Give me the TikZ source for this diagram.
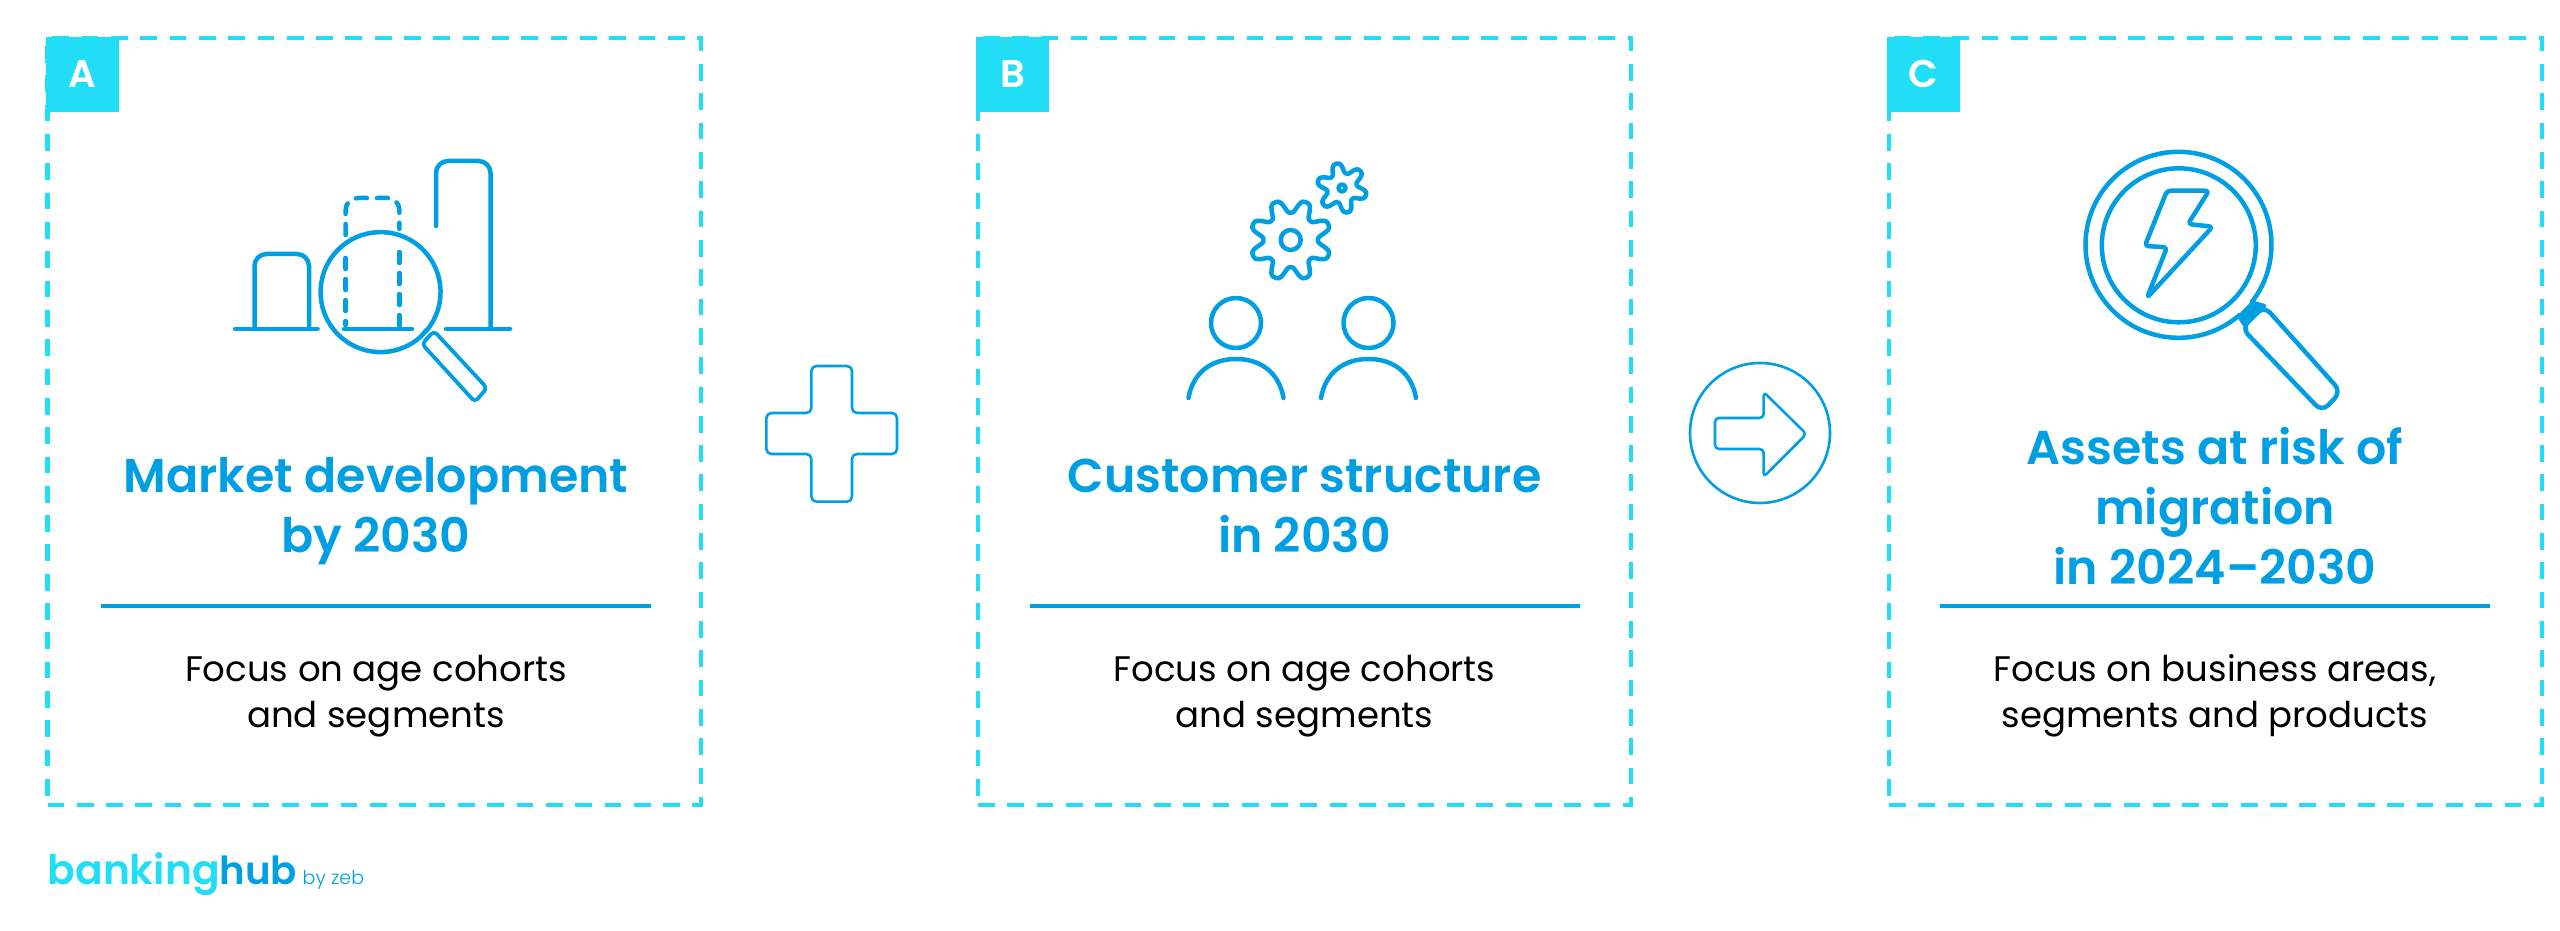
\documentclass[tikz,border=0pt]{standalone}
\usepackage{fontspec}
\setmainfont{Poppins}
\newfontfamily\titlefont{Poppins SemiBold}
\newfontfamily\lightfont{Poppins Light}
\usetikzlibrary{positioning}

\definecolor{zebcyan}{HTML}{22DDF6}
\definecolor{zebblue}{HTML}{009FE3}

\tikzset{
	panelbox/.style={draw=zebcyan, line width=0.4mm, dash pattern=on 1.67mm off 1.26mm,
		minimum width=6.53cm, minimum height=7.665cm, inner sep=0, outer sep=0, anchor=north west},
	paneltag/.style={fill=zebcyan, text=white, font=\fontsize{11}{13}\selectfont\titlefont,
		minimum width=0.73cm, minimum height=0.75cm, inner sep=0, outer sep=0, anchor=north west},
	paneltitle/.style={text=zebblue, font=\fontsize{13.5}{17.07}\selectfont\titlefont,
		align=center, inner sep=0, anchor=base},
	panelbody/.style={text=black, font=\fontsize{10.1}{13.09}\selectfont,
		align=center, inner sep=0, anchor=base},
	panelrule/.style={draw=zebblue, line width=0.4mm},
	iconline/.style={draw=zebblue, line width=0.45mm, line cap=round, line join=round},
	icondash/.style={iconline, dash pattern=on 1.1mm off 1mm},
	thinline/.style={draw=zebblue, line width=0.26mm, line join=round},
	logotext/.style={anchor=base west, inner sep=0},
}

\begin{document}
\begin{tikzpicture}[x=0.01cm, y=-0.01cm]
	\path[use as bounding box, fill=white] (0, 0) rectangle (2560, 931);

	% Panels with tag, title, rule and body
	\foreach \name/\xx/\cx/\tagtext/\titletext/\titley/\bodytext in {
		a/47.5/376/A/{Market development\\by 2030}/553/{Focus on age cohorts\\and segments},
		b/978/1304.5/B/{Customer structure\\in 2030}/553/{Focus on age cohorts\\and segments},
		c/1889/2215/C/{Assets at risk of\\migration\\in 2024–2030}/585/{Focus on business areas,\\segments and products}}{
		\node (box\name) at (\xx, 38.3) [panelbox] {};
		\node (tag\name) at (\xx - 2, 36.7) [paneltag] {\tagtext};
		\node (title\name) at (\cx, \titley) [paneltitle] {\titletext};
		\node (body\name) at (\cx, 728) [panelbody] {\bodytext};
		\coordinate (rulestart\name) at (\cx - 275, 606);
		\coordinate (ruleend\name) at (\cx + 275, 606);
		\draw [panelrule] (rulestart\name) -- (ruleend\name);
	}

	% Bar chart icon
	\draw [iconline] (235, 329) -- (317.5, 329);
	\draw [iconline] (344, 329) -- (412, 329);
	\draw [iconline] (446, 329) -- (510, 329);
	\draw [iconline, rounded corners=1.2mm] (254.5, 329) -- (254.5, 254) -- (309, 254) -- (309, 329);
	\draw [iconline, rounded corners=1.2mm] (436, 226) -- (436, 161) -- (490.5, 161) -- (490.5, 329);
	\draw [icondash, rounded corners=1.2mm] (345.6, 235) -- (345.6, 198) -- (399.4, 198) -- (399.4, 229);
	\draw [icondash] (345.6, 258) -- (345.6, 325);
	\draw [icondash] (399.4, 252) -- (399.4, 329);
	\draw [iconline] (420.7, 336.7) arc [start angle=48, end angle=399, radius=60];
	\draw [iconline] (420.7, 336.7) -- (426.6, 330);
	\draw [iconline, line width=0.38mm, rounded corners=0.4mm] (434, 331) -- (487, 388) -- (475, 402) -- (422, 344) -- cycle;

	% Plus sign
	\draw [thinline, rounded corners=0.5mm] (811.4, 366) -- (852, 366) -- (852, 413) -- (897, 413) -- (897, 454)
		-- (852, 454) -- (852, 501.7) -- (811.4, 501.7) -- (811.4, 454) -- (766.4, 454) -- (766.4, 413) -- (811.4, 413) -- cycle;

	% Gears and people
	\draw [iconline] plot [domain=0:357.5, samples=144, smooth cycle, shift={(1290.7, 240)}]
		(\x:{34 + 7.5*(cos(8*(\x - 22.5)) - 0.1*cos(24*(\x - 22.5)))});
	\draw [iconline] (1290.7, 240) circle [radius=10];
	\draw [iconline] plot [domain=0:355, samples=72, smooth cycle, shift={(1342, 188)}]
		(\x:{20 + 5.5*(cos(6*(\x + 103)) - 0.1*cos(18*(\x + 103)))});
	\draw [iconline] (1342, 188) circle [radius=3.5];
	\foreach \xx in {1236, 1368.5}{
		\draw [iconline] (\xx, 323) circle [radius=25];
		\draw [iconline] (\xx - 47.5, 398) .. controls (\xx - 43, 372) and (\xx - 24, 359) .. (\xx, 359)
			.. controls (\xx + 24, 359) and (\xx + 43, 372) .. (\xx + 47.5, 398);
	}

	% Arrow in circle
	\draw [thinline] (1760, 433) circle [radius=70];
	\draw [thinline, rounded corners=0.4mm] (1715, 418) -- (1763.6, 418) -- (1763.6, 392) -- (1806.4, 434)
		-- (1763.6, 477) -- (1763.6, 449) -- (1715, 449) -- cycle;

	% Magnifier with bolt
	\draw [iconline] (2239.5, 315) arc [start angle=49, end angle=398, radius=93];
	\draw [iconline] (2178.8, 245.3) circle [radius=77];
	\draw [iconline, rounded corners=0.35mm] (2167, 190.7) -- (2209, 190.7) -- (2188, 224) -- (2212.7, 226.7)
		-- (2147, 297.7) -- (2167, 247.3) -- (2144.8, 246) -- cycle;
	\draw [iconline, fill=zebblue] (2253, 303) -- (2239.5, 316.7) -- (2245, 325) -- (2264, 306) -- cycle;
	\draw [iconline, rounded corners=0.9mm] (2264, 306) -- (2341, 391.7) -- (2322, 411.7) -- (2241.7, 328) -- cycle;

	% Logo
	\node (logobanking) at (47, 885) [logotext, text=zebcyan, font=\fontsize{11.6}{13}\selectfont\titlefont] {banking};
	\node (logohub) at (219, 885) [logotext, text=zebblue, font=\fontsize{11}{13}\selectfont\titlefont] {hub};
	\node (logoby) at (302, 885) [logotext, text=zebblue, font=\fontsize{5.4}{7}\selectfont\lightfont] {by zeb};
\end{tikzpicture}
\end{document}
